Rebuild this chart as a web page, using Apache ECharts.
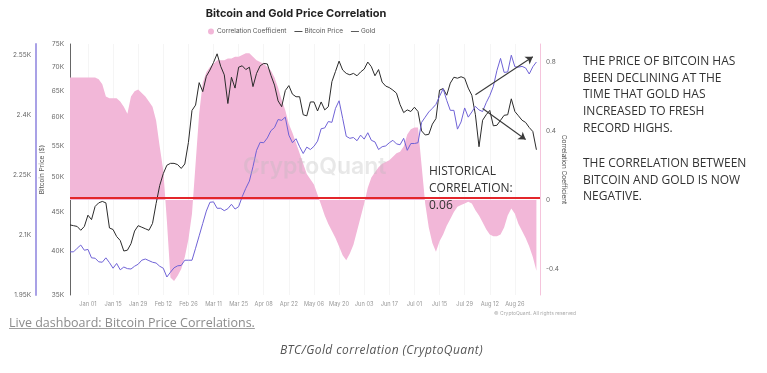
<!DOCTYPE html>
<html><head><meta charset="utf-8">
<script src="https://cdn.jsdelivr.net/npm/echarts@6/dist/echarts.min.js"></script>
<style>
html,body{margin:0;padding:0;background:#fff;}
#chart{position:absolute;left:0;top:0;width:767px;height:373px;}
.cap1{position:absolute;left:9px;top:314px;font-family:'Open Sans';font-size:12.5px;line-height:17px;color:#8c8c8c;text-decoration:underline;text-decoration-color:#a0a0a0;white-space:nowrap;}
.cap2{position:absolute;left:280px;top:341px;font-family:'Open Sans';font-style:italic;font-size:12px;line-height:17px;color:#555;letter-spacing:0.42px;white-space:nowrap;}
</style></head>
<body>
<div id="chart"></div>
<div class="cap1">Live dashboard: Bitcoin Price Correlations.</div>
<div class="cap2">BTC/Gold correlation (CryptoQuant)</div>
<script>
// ---- data (sampled every 2 days from Dec 22, 2023) ----
const START_DATE = Date.UTC(2023, 11, 22);
const STEP_DAYS = 2;
const MONTHS = ['Jan','Feb','Mar','Apr','May','Jun','Jul','Aug','Sep','Oct','Nov','Dec'];

const correlation = [
 0.71,0.71,0.71,0.71,0.71,0.71,0.71,0.71,0.70,0.67,
 0.60,0.59,0.59,0.59,0.57,0.54,0.50,0.60,0.63,0.64,
 0.62,0.60,0.57,0.54,0.46,0.31,0.17,-0.12,-0.45,-0.47,
 -0.44,-0.40,-0.33,-0.23,-0.08,0.21,0.50,0.68,0.74,0.77,
 0.79,0.81,0.81,0.81,0.82,0.82,0.83,0.83,0.84,0.85,
 0.85,0.83,0.81,0.80,0.79,0.77,0.75,0.71,0.65,0.58,
 0.52,0.44,0.39,0.33,0.27,0.21,0.15,0.12,0.09,0.03,
 -0.03,-0.09,-0.14,-0.18,-0.22,-0.27,-0.32,-0.35,-0.31,-0.26,
 -0.18,-0.10,-0.02,0.07,0.13,0.16,0.19,0.21,0.22,0.23,
 0.25,0.27,0.28,0.31,0.38,0.41,0.42,0.42,0.20,-0.02,
 -0.16,-0.25,-0.30,-0.24,-0.20,-0.15,-0.11,-0.07,-0.04,-0.03,
 -0.02,-0.01,-0.02,-0.06,-0.09,-0.13,-0.17,-0.20,-0.21,-0.21,
 -0.20,-0.16,-0.09,-0.05,-0.08,-0.14,-0.18,-0.22,-0.27,-0.33,
 -0.41,null
];

const bitcoinPrice = [
 43300,43200,43100,42600,43100,44600,44000,45800,46300,46500,
 46300,42900,42700,41800,41300,40000,40100,40900,42500,43200,
 43000,42800,42600,43500,46200,48800,50600,51900,52200,52200,
 52000,51400,52100,55600,61300,62300,66700,64900,68000,69300,
 70900,72800,70100,68300,62600,67800,65600,69900,70200,69400,
 69900,65900,68600,70200,70700,70600,68200,66200,63100,62000,
 65100,66100,64400,63900,63900,60500,60300,62900,62900,61200,
 62900,61400,62000,66900,69000,71200,69300,68600,68300,68600,
 68100,68900,69500,71000,70000,68100,69400,66800,66000,65700,
 65200,64600,62400,60900,61400,61100,61900,61100,57600,56900,
 57000,58800,59800,65200,65500,64200,66600,67800,67600,67900,
 67600,65600,64200,60500,54900,59500,60500,61300,58500,58600,
 59500,60400,60500,63500,61100,60300,59500,59100,58200,57500,
 54400,null
];

const goldPrice = [
 2058,2058,2067,2075,2062,2064,2043,2042,2033,2032,
 2043,2031,2017,2029,2013,2020,2016,2015,2022,2027,
 2037,2040,2036,2032,2030,2022,2017,1995,2007,2018,
 2023,2024,2037,2037,2037,2067,2098,2129,2160,2182,
 2183,2167,2167,2161,2166,2177,2165,2171,2196,2217,
 2235,2271,2312,2332,2331,2343,2361,2369,2389,2387,
 2395,2350,2331,2341,2321,2304,2320,2314,2322,2335,
 2366,2368,2384,2382,2417,2436,2392,2347,2342,2344,
 2336,2350,2340,2356,2337,2333,2314,2321,2323,2331,
 2337,2328,2326,2342,2312,2329,2329,2331,2382,2395,
 2408,2417,2427,2447,2466,2437,2412,2412,2365,2383,
 2418,2395,2408,2422,2413,2409,2431,2449,2472,2512,
 2542,2507,2508,2550,2521,2520,2522,2518,2503,2521,
 2533,null
];

const btcTicks = [35000,40000,45000,50000,55000,60000,65000,70000,75000];
const goldTicks = [1950,2100,2250,2400,2550];
const corrTicks = [-0.4,0,0.4,0.8];
const historicalCorrelation = 0.01; // red reference line level on the correlation axis

const dates = [];
for (let i = 0; i < correlation.length; i++) {
  const d = new Date(START_DATE + i * STEP_DAYS * 86400000);
  dates.push(MONTHS[d.getUTCMonth()] + ' ' + String(d.getUTCDate()).padStart(2, '0'));
}
const FIRST_LABEL = dates.indexOf('Jan 01');
const showLabel = (idx) => idx >= FIRST_LABEL && idx < dates.length - 2 && (idx - FIRST_LABEL) % 7 === 0;

const kFmt = v => (v / 1000) + 'K';
const LINE_ICON = 'path://M0,0H12V1.3H0Z';
const chart = echarts.init(document.getElementById('chart'), null, {renderer: 'canvas'});

const option = {
  animation: false,
  textStyle: {fontFamily: 'Inter, Roboto, sans-serif'},
  title: {
    text: 'Bitcoin and Gold Price Correlation',
    left: 291, top: 3, textAlign: 'center',
    textStyle: {fontSize: 11, fontWeight: 'bold', color: '#222', fontFamily: 'Inter'}
  },
  legend: {
    left: 203, top: 23, itemGap: 8, itemWidth: 8, itemHeight: 6,
    textStyle: {fontSize: 6.5, color: '#555', padding: [0, 0, 0, -3]},
    data: [
      {name: 'Correlation Coefficient', icon: 'circle'},
      {name: 'Bitcoin Price', icon: LINE_ICON, itemStyle: {color: '#333'}},
      {name: 'Gold', icon: LINE_ICON, itemStyle: {color: '#444'}}
    ]
  },
  grid: {left: 70, right: 227, top: 44, bottom: 78},
  xAxis: {
    type: 'category', data: dates, boundaryGap: false,
    axisLine: {show: false}, axisTick: {show: false},
    axisLabel: {interval: showLabel, fontSize: 5.7, color: '#999', margin: 6},
    splitLine: {show: true, interval: showLabel, lineStyle: {color: '#f5f5f5', width: 1}}
  },
  yAxis: [
    {
      type: 'log', min: 35000, max: 75000, position: 'left',
      name: 'Bitcoin Price ($)', nameLocation: 'middle', nameGap: 24, nameMoveOverlap: false,
      nameTextStyle: {fontSize: 6.5, color: '#555'},
      axisLine: {show: true, lineStyle: {color: '#666', width: 1}},
      axisTick: {show: false}, splitLine: {show: false},
      axisLabel: {customValues: btcTicks, formatter: kFmt, fontSize: 6.5, color: '#666', margin: 6}
    },
    {
      type: 'value', min: 1950, max: 2578, position: 'left', offset: 34,
      axisLine: {show: true, lineStyle: {color: '#a9a1e6', width: 2}},
      axisTick: {show: false}, splitLine: {show: false},
      axisLabel: {customValues: goldTicks, formatter: kFmt, fontSize: 6.5, color: '#666', margin: 5}
    },
    {
      type: 'value', min: -0.551, max: 0.904, position: 'right',
      name: 'Correlation Coefficient', nameLocation: 'middle', nameGap: 20, nameRotate: -90, nameMoveOverlap: false,
      nameTextStyle: {fontSize: 6.5, color: '#555'},
      axisLine: {show: true, lineStyle: {color: '#f5c4dc', width: 1}},
      axisTick: {show: false}, splitLine: {show: false},
      axisLabel: {customValues: corrTicks, fontSize: 6.5, color: '#666', margin: 6}
    }
  ],
  series: [
    {
      name: 'Correlation Coefficient', type: 'line', yAxisIndex: 2, data: correlation,
      symbol: 'none', itemStyle: {color: '#f2b7d8'},
      lineStyle: {width: 0, color: '#f2b7d8'},
      areaStyle: {color: '#f2b7d8', opacity: 1}, z: 1,
      markLine: {
        silent: true, symbol: ['none', 'none'], label: {show: false}, animation: false,
        data: [
          {yAxis: historicalCorrelation, lineStyle: {color: '#e3262b', width: 1.8, type: 'solid'}},
          [
            {coord: [dates[113], 0.61], symbol: 'none', lineStyle: {color: '#3a3a3a', width: 1.1, type: 'solid'}},
            {coord: [dates[129], 0.83], symbol: 'arrow', symbolSize: 7}
          ],
          [
            {coord: [dates[115], 0.53], symbol: 'none', lineStyle: {color: '#3a3a3a', width: 1.1, type: 'solid'}},
            {coord: [dates[127], 0.35], symbol: 'arrow', symbolSize: 7}
          ]
        ]
      }
    },
    {
      name: 'Bitcoin Price', type: 'line', yAxisIndex: 0, data: bitcoinPrice,
      symbol: 'none', itemStyle: {color: '#2b2b2b'}, lineStyle: {width: 1, color: '#2b2b2b'}, z: 3
    },
    {
      name: 'Gold', type: 'line', yAxisIndex: 1, data: goldPrice,
      symbol: 'none', itemStyle: {color: '#6f62d6'}, lineStyle: {width: 1, color: '#6f62d6'}, z: 4
    }
  ],
  graphic: [
    {type: 'text', left: 243, top: 156, z: 50, silent: true,
     style: {text: 'CryptoQuant', fontSize: 23, fontWeight: 600, fontFamily: 'Inter', fill: 'rgba(185,185,185,0.33)'}},
    {type: 'text', left: 494, top: 311, silent: true,
     style: {text: '\u00a9 CryptoQuant. All rights reserved', fontSize: 5, fontFamily: 'Inter', fill: '#aaa'}},
    {type: 'text', left: 429, top: 163, z: 60, silent: true,
     style: {text: 'HISTORICAL\nCORRELATION:\n0.06', fontSize: 12, fontFamily: 'Open Sans', fill: '#333', lineHeight: 17}},
    {type: 'text', left: 583, top: 53.5, silent: true,
     style: {text: 'THE PRICE OF BITCOIN HAS\nBEEN DECLINING AT THE\nTIME THAT GOLD HAS\nINCREASED TO FRESH\nRECORD HIGHS.',
             fontSize: 12, fontFamily: 'Open Sans', fill: '#333', lineHeight: 16.6}},
    {type: 'text', left: 583, top: 155.5, silent: true,
     style: {text: 'THE CORRELATION BETWEEN\nBITCOIN AND GOLD IS NOW\nNEGATIVE.',
             fontSize: 12, fontFamily: 'Open Sans', fill: '#333', lineHeight: 16.6}}
  ]
};
chart.setOption(option);
</script>
</body></html>
